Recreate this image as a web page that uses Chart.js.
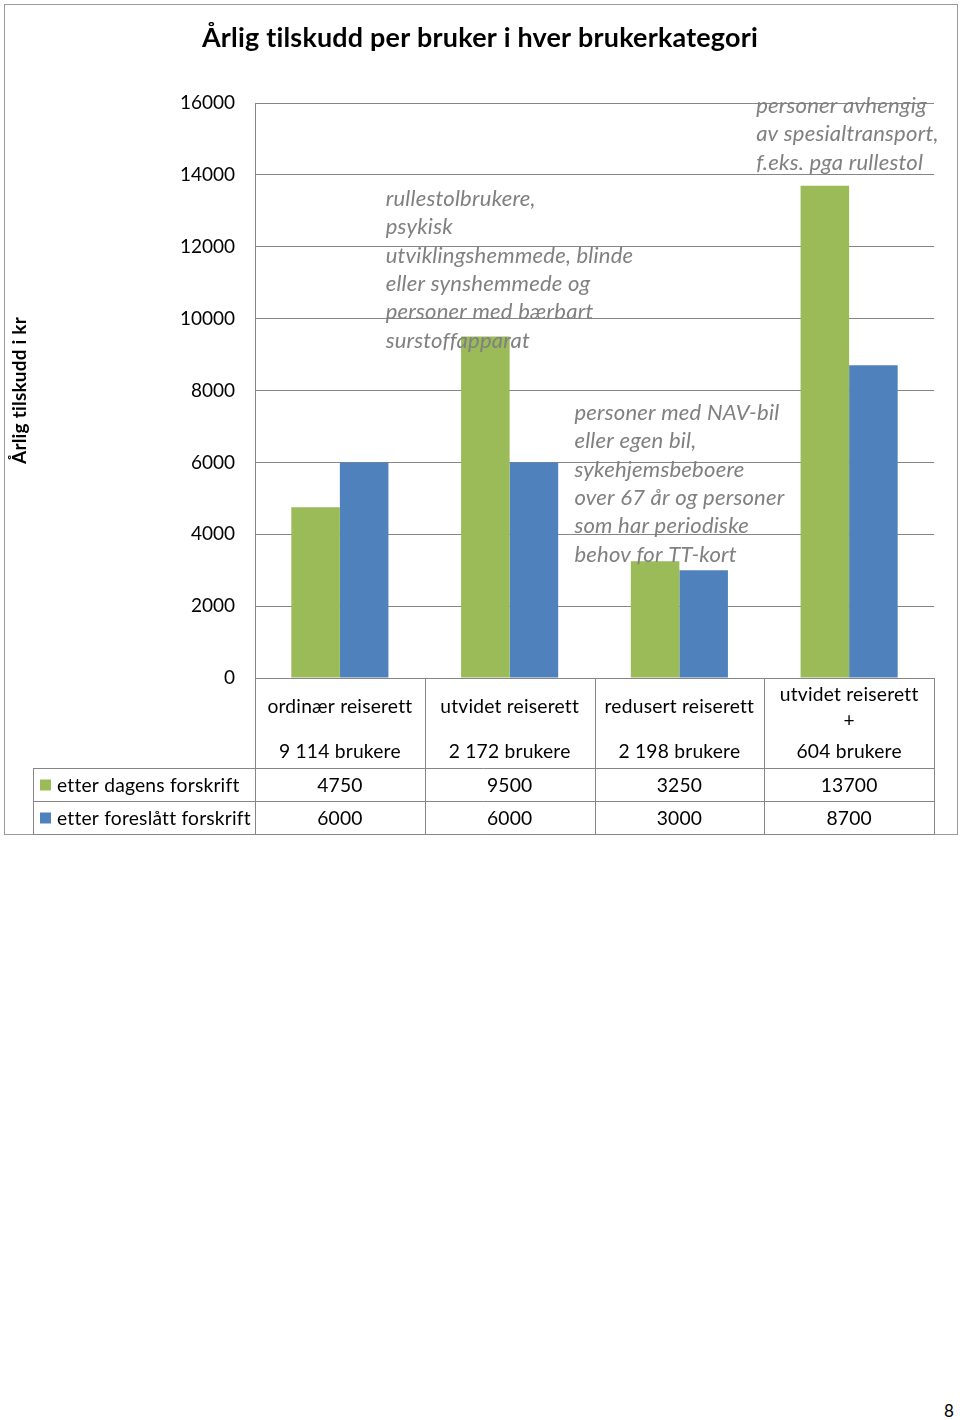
<!DOCTYPE html>
<html><head><meta charset="utf-8">
<script src="https://cdn.jsdelivr.net/npm/chart.js@4/dist/chart.umd.min.js"></script>
<style>
html,body{margin:0;padding:0;background:#fff;}
body{width:960px;height:1420px;position:relative;overflow:hidden;}
#c{position:absolute;left:0;top:0;}
#pg{position:absolute;left:944px;top:1400px;font:17px Lato, sans-serif;color:#000;}
</style></head>
<body>
<canvas id="c" width="960" height="840"></canvas>
<div id="pg">8</div>
<script>
// ---- data ----
const chartTitle = "Årlig tilskudd per bruker i hver brukerkategori";
const yAxisTitle = "Årlig tilskudd i kr";
const categories = ["ordinær reiserett", "utvidet reiserett", "redusert reiserett", "utvidet reiserett +"];
const categoryLines = [
  ["ordinær reiserett", "", "9 114 brukere"],
  ["utvidet reiserett", "", "2 172 brukere"],
  ["redusert reiserett", "", "2 198 brukere"],
  ["utvidet reiserett", "+", "604 brukere"]
];
const seriesNames = ["etter dagens forskrift", "etter foreslått forskrift"];
const dagens = [4750, 9500, 3250, 13700];
const foreslatt = [6000, 6000, 3000, 8700];
const yMin = 0, yMax = 16000, yStep = 2000;
const noteTexts = [
  ["rullestolbrukere,", "psykisk", "utviklingshemmede, blinde", "eller synshemmede og", "personer med bærbart", "surstoffapparat"],
  ["personer med NAV-bil", "eller egen bil,", "sykehjemsbeboere", "over 67 år og personer", "som har periodiske", "behov for TT-kort"],
  ["personer avhengig", "av spesialtransport,", "f.eks. pga rullestol"]
];

// ---- style ----
const GREEN = "#9BBB59", BLUE = "#4F81BD", GRID = "#868686", BORDER = "#9a9a9a";
const FONT = "Lato, 'Open Sans', sans-serif";

function fitText(ctx, text, x, y, font, align, scaleX) {
  ctx.save();
  ctx.font = font;
  if ("letterSpacing" in ctx) ctx.letterSpacing = "0.2px";
  ctx.textAlign = align;
  ctx.textBaseline = "middle";
  ctx.translate(x, y);
  ctx.scale(scaleX, 1);
  ctx.fillText(text, 0, 0);
  ctx.restore();
}
function scaleFor(ctx, font, ref, target) {
  ctx.save(); ctx.font = font;
  if ("letterSpacing" in ctx) ctx.letterSpacing = "0.2px";
  const w = ctx.measureText(ref).width; ctx.restore();
  return Math.min(1.15, target / w);
}

const tablePlugin = {
  id: "tablePlugin",
  afterDatasetsDraw(chart) {
    const ctx = chart.ctx, xs = chart.scales.x;
    const nf = "italic 21px " + FONT;
    const ns = scaleFor(ctx, nf, "personer med NAV-bil", 205);
    const notes = [
      {col: 1, dx: -124, top: 199, lines: noteTexts[0]},
      {col: 2, dx: -105, top: 413, lines: noteTexts[1]},
      {col: 3, dx: -93, top: 106, lines: noteTexts[2]}
    ];
    ctx.fillStyle = "#808080";
    notes.forEach(n => {
      const x0 = xs.getPixelForValue(n.col) + n.dx;
      n.lines.forEach((t, i) => fitText(ctx, t, x0, n.top + i * 28.4, nf, "left", ns));
    });
  },
  afterDraw(chart) {
    const ctx = chart.ctx, ca = chart.chartArea, xs = chart.scales.x;
    ctx.save();
    ctx.strokeStyle = BORDER; ctx.lineWidth = 1;
    ctx.strokeRect(4.5, 4.5, 953, 830);
    ctx.restore();

    ctx.fillStyle = "#000";
    const tf = "bold 27px " + FONT;
    fitText(ctx, chartTitle, 480, 38, tf, "center", scaleFor(ctx, tf, chartTitle, 556));

    const yf = "bold 19px " + FONT;
    const ysc = scaleFor(ctx, yf, yAxisTitle, 147);
    ctx.save();
    ctx.translate(20, (ca.top + ca.bottom) / 2);
    ctx.rotate(-Math.PI / 2);
    fitText(ctx, yAxisTitle, 0, 0, yf, "center", ysc);
    ctx.restore();

    const rowTop = [ca.bottom, 768, 801, 834];
    const tLeft = 33;
    const n = categories.length;
    const colW = (ca.right - ca.left) / n;
    ctx.save();
    ctx.strokeStyle = GRID; ctx.lineWidth = 1;
    ctx.beginPath();
    ctx.moveTo(ca.left, Math.round(ca.bottom) + 0.5); ctx.lineTo(ca.right, Math.round(ca.bottom) + 0.5);
    for (let r = 1; r < rowTop.length; r++) {
      ctx.moveTo(tLeft, rowTop[r] + 0.5); ctx.lineTo(ca.right, rowTop[r] + 0.5);
    }
    for (let i = 0; i <= n; i++) {
      const x = Math.round(ca.left + colW * i) + 0.5;
      ctx.moveTo(x, ca.bottom); ctx.lineTo(x, rowTop[3] + 0.5);
    }
    ctx.moveTo(tLeft + 0.5, rowTop[1]); ctx.lineTo(tLeft + 0.5, rowTop[3] + 0.5);
    ctx.stroke();
    ctx.restore();

    const f = "19px " + FONT;
    const fs = scaleFor(ctx, f, "ordinær reiserett", 145);
    ctx.fillStyle = "#000";
    categoryLines.forEach((lines, i) => {
      const cx = xs.getPixelForValue(i);
      const ys = lines[1] === "" ? [707, 729.5, 752] : [695, 721, 752];
      lines.forEach((t, j) => { if (t) fitText(ctx, t, cx, ys[j], f, "center", fs); });
    });
    const rows = [dagens, foreslatt];
    const colors = [GREEN, BLUE];
    rows.forEach((vals, r) => {
      const yc = (rowTop[r + 1] + rowTop[r + 2]) / 2 + 1;
      ctx.fillStyle = colors[r];
      ctx.fillRect(40, yc - 6, 11, 11);
      ctx.fillStyle = "#000";
      fitText(ctx, seriesNames[r], 57, yc, f, "left", fs);
      vals.forEach((v, i) => fitText(ctx, String(v), xs.getPixelForValue(i), yc, f, "center", fs));
    });
  }
};

new Chart(document.getElementById("c"), {
  type: "bar",
  data: {
    labels: categories,
    datasets: [
      {label: seriesNames[0], data: dagens, backgroundColor: GREEN, borderWidth: 0},
      {label: seriesNames[1], data: foreslatt, backgroundColor: BLUE, borderWidth: 0}
    ]
  },
  options: {
    responsive: false,
    animation: false,
    devicePixelRatio: 1,
    layout: {padding: {left: 0, right: 26, top: 103, bottom: 162}},
    datasets: {bar: {categoryPercentage: 0.572, barPercentage: 1.0}},
    plugins: {legend: {display: false}, title: {display: false}, tooltip: {enabled: false}},
    scales: {
      x: {display: false},
      y: {
        min: yMin, max: yMax,
        afterFit(axis) { axis.width = 255; },
        ticks: {stepSize: yStep, padding: 20, color: "#000", font: {family: FONT, size: 19},
                callback: (v) => String(v)},
        grid: {color: GRID, drawTicks: false, lineWidth: 1},
        border: {display: true, color: GRID}
      }
    }
  },
  plugins: [tablePlugin]
});
</script>
</body></html>
